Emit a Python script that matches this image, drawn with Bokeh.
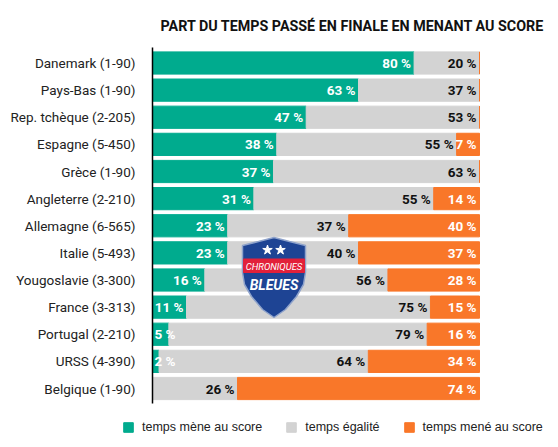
from bokeh.plotting import figure
from bokeh.models import Range1d, Legend, LegendItem, FixedTicker
from bokeh.embed import file_html
from bokeh.resources import INLINE
from bokeh.core.properties import value

countries = ["Danemark (1-90)", "Pays-Bas (1-90)", "Rep. tchèque (2-205)", "Espagne (5-450)", "Grèce (1-90)",
             "Angleterre (2-210)", "Allemagne (6-565)", "Italie (5-493)", "Yougoslavie (3-300)", "France (3-313)",
             "Portugal (2-210)", "URSS (4-390)", "Belgique (1-90)"]
# printed labels (rounded: France sums to 101)
mene = [80, 63, 47, 38, 37, 31, 23, 23, 16, 11, 5, 2, 0]
egalite = [20, 37, 53, 55, 63, 55, 37, 40, 56, 75, 79, 64, 26]
perdu = [0, 0, 0, 7, 0, 14, 40, 37, 28, 15, 16, 34, 74]
# bar lengths (France's bars stop at 100)
mene_bar = [80, 63, 47, 38, 37, 31, 23, 23, 16, 10.4, 5, 2, 0]
egalite_bar = [20, 37, 53, 55, 63, 55, 37, 40, 56, 74.6, 79, 64, 26]
perdu_bar = [0, 0, 0, 7, 0, 14, 40, 37, 28, 15, 16, 34, 74]
legend_labels = ["temps mène au score", "temps égalité", "temps mené au score"]
title_text = "PART DU TEMPS PASSÉ EN FINALE EN MENANT AU SCORE"
colors = ["#00AB8E", "#D3D3D3", "#F97729"]
FONT = "Roboto"

ypos = list(range(len(countries)))

# The frame fills the whole figure so that the title, axis labels and legend can all sit inside it.
X0, X100 = 152, 479          # page x of 0 % and 100 %
Y0, YSTEP = 62.5, 27.125     # page y of first row and row spacing
L, R, T, B = 0, 556, 0, 445  # page box of the figure
ux = (X100 - X0) / 100

p = figure(width=R - L, height=B - T, output_backend="svg", toolbar_location=None,
           x_range=Range1d((L - X0) / ux, (R - X0) / ux),
           y_range=Range1d((B - Y0) / YSTEP, (T - Y0) / YSTEP),
           min_border_left=0, min_border_right=0, min_border_top=0, min_border_bottom=0)
p.extra_y_ranges["px"] = Range1d(B, T)
p.extra_x_ranges["px"] = Range1d(L, R)

p.text([160], [25], text=[title_text], text_color="#111111", text_font=value(FONT), text_font_style="bold",
       text_font_size="14.3px", text_align="left", text_baseline="middle", x_range_name="px", y_range_name="px")

p.xaxis.visible = False
p.xgrid.visible = False
p.ygrid.visible = False
p.outline_line_color = None
p.yaxis.fixed_location = 0
p.yaxis.bounds = (-0.57, 12.56)
p.yaxis.ticker = FixedTicker(ticks=ypos)
p.yaxis.major_label_overrides = {i: c for i, c in zip(ypos, countries)}
p.yaxis.axis_line_color = "black"
p.yaxis.axis_line_width = 1.5
p.yaxis.major_tick_line_color = None
p.yaxis.minor_tick_line_color = None
p.yaxis.major_label_text_font = FONT
p.yaxis.major_label_text_font_size = "13.5px"
p.yaxis.major_label_text_color = "#222222"
p.yaxis.major_label_standoff = 11

s1 = [a + b for a, b in zip(mene_bar, egalite_bar)]
s2 = [a + b for a, b in zip(s1, perdu_bar)]
h = 0.82
r1 = p.hbar(y=ypos, left=0, right=mene_bar, height=h, color=colors[0])
r2 = p.hbar(y=ypos, left=mene_bar, right=s1, height=h, color=colors[1])
r3 = p.hbar(y=ypos, left=s1, right=s2, height=h, color=colors[2])

def labels(xs, vals, col, small_left=False):
    big = [(x, c, f"{v} %") for x, c, v in zip(xs, ypos, vals) if v > (5 if small_left else 0)]
    p.text(x=[b[0] for b in big], y=[b[1] for b in big], text=[b[2] for b in big], text_color=col,
           text_font=value(FONT), text_font_style="bold", text_font_size="13.5px",
           text_align="right", text_baseline="middle", x_offset=-3)
    if small_left:
        sm = [(c, f"{v} %") for c, v in zip(ypos, vals) if 0 < v <= 5]
        p.text(x=[0] * len(sm), y=[b[0] for b in sm], text=[b[1] for b in sm], text_color=col,
               text_font=value(FONT), text_font_style="bold", text_font_size="13.5px",
               text_align="left", text_baseline="middle", x_offset=2)

labels(mene_bar, mene, "white", small_left=True)
labels(s1, egalite, "#111111")
labels(s2, perdu, "white")

# logo
shield_x = [242, 258, 273.5, 289, 305, 305, 303, 296, 285, 273.5, 262, 251, 244, 242]
shield_y = [245, 241, 237, 241, 245, 272, 284, 296, 309, 317, 309, 296, 284, 272]
p.patch(shield_x, shield_y, fill_color="#1E4494", line_color="#8FA3CB", line_width=1.5,
        x_range_name="px", y_range_name="px")
p.quad(left=[243], right=[304], top=[258.5], bottom=[272], color="#E2203A", x_range_name="px", y_range_name="px")
p.scatter([267, 280], [249.5, 249.5], marker="star", size=10, color="white", x_range_name="px", y_range_name="px")
p.text([273.5], [265.5], text=["CHRONIQUES"], text_color="white", text_font=value(FONT), text_font_size="9.5px",
       text_font_style="italic", text_align="center", text_baseline="middle", x_range_name="px", y_range_name="px")
p.text([273.5], [284], text=["BLEUES"], text_color="white", text_font=value(FONT), text_font_size="14px",
       text_font_style="bold italic", text_align="center", text_baseline="middle", x_range_name="px", y_range_name="px")

legend = Legend(items=[LegendItem(label=l, renderers=[r]) for l, r in zip(legend_labels, [r1, r2, r3])],
                orientation="horizontal", location=(122, B - 434), border_line_color=None, background_fill_alpha=0,
                glyph_width=12, glyph_height=12, label_standoff=8, spacing=23, margin=0, padding=0,
                label_text_font="Liberation Sans", label_text_font_size="12.5px", label_text_color="#222222",
                label_height=12)
p.add_layout(legend)

open("out.html", "w").write(file_html(p, INLINE))
